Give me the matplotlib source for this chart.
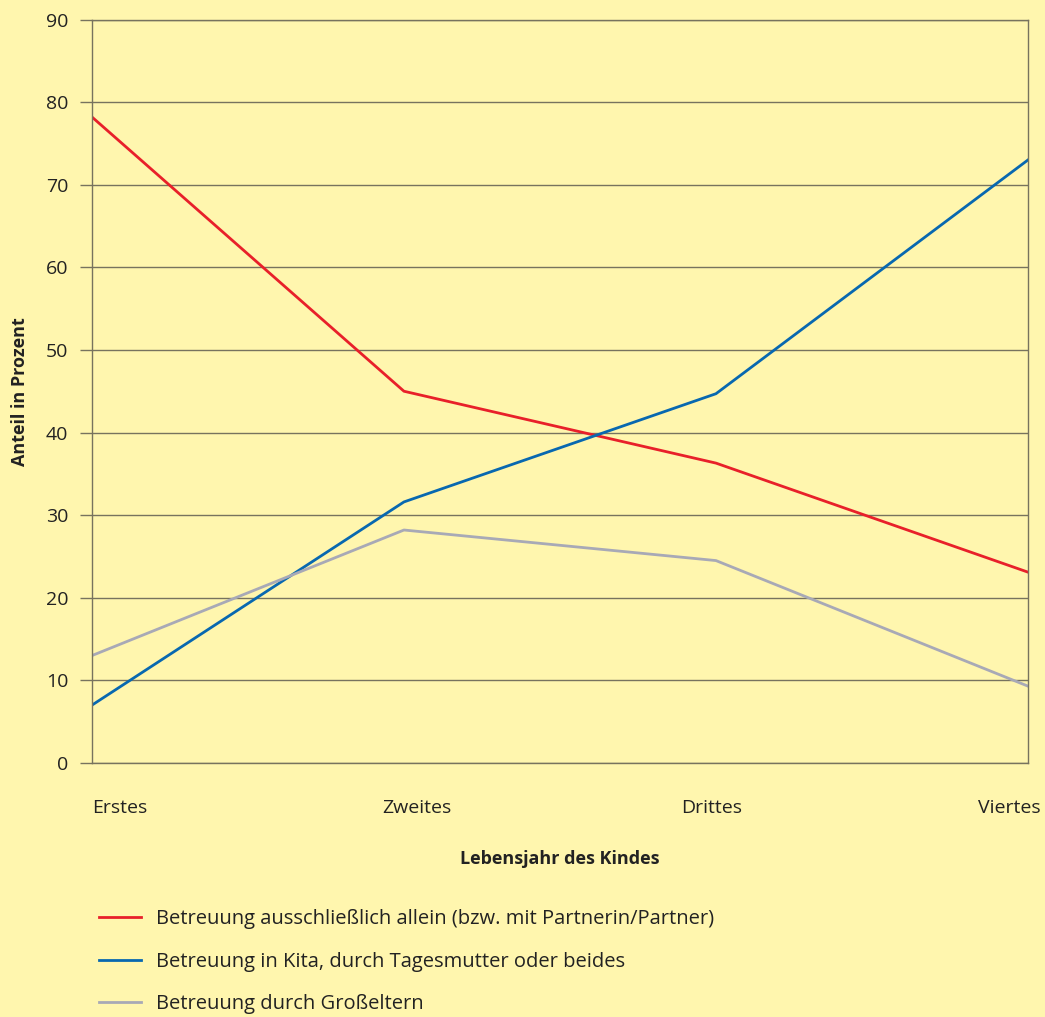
import matplotlib.pyplot as plt
import matplotlib.transforms as mt

plt.rcParams['font.family'] = ['Open Sans', 'DejaVu Sans']

jahre = ['Erstes', 'Zweites', 'Drittes', 'Viertes']
allein = [78.2, 45.0, 36.3, 23.1]
kita = [7.0, 31.6, 44.7, 73.0]
grosseltern = [13.0, 28.2, 24.5, 9.3]
serien_namen = ['Betreuung ausschließlich allein (bzw. mit Partnerin/Partner)',
                'Betreuung in Kita, durch Tagesmutter oder beides',
                'Betreuung durch Großeltern']

bg = '#FFF6AE'
grid_col = '#77735E'

fig = plt.figure(figsize=(10.45, 10.17), dpi=100, facecolor=bg)
ax = fig.add_axes([0.088, 0.2498, 0.8957, 0.7310], facecolor=bg)

x = range(len(jahre))
ax.plot(x, allein, color='#E8202A', lw=2.0, label=serien_namen[0])
ax.plot(x, kita, color='#0868B0', lw=2.0, label=serien_namen[1])
ax.plot(x, grosseltern, color='#A8A9B6', lw=2.0, label=serien_namen[2])

ax.set_xlim(0, 3)
ax.set_ylim(0, 90)
ax.set_yticks(range(0, 91, 10))
ax.grid(axis='y', color=grid_col, lw=1.0)
ax.set_axisbelow(True)
for s in ax.spines.values():
    s.set_color(grid_col)
    s.set_linewidth(1.0)
ax.tick_params(axis='y', length=9, width=1.0, color=grid_col, pad=8,
               labelsize=14, labelcolor='#222222')
ax.tick_params(axis='x', length=0, pad=26, labelsize=14, labelcolor='#222222')
ax.set_xticks(list(x))
ax.set_xticklabels(jahre)
tl = ax.get_xticklabels()
for t in tl:
    t.set_ha('left')
tl[-1].set_ha('right')

# labels sit a bit off the points, like in the original
shifts = [0, -22, -35, 13]
for t, s in zip(tl, shifts):
    t.set_transform(t.get_transform() + mt.ScaledTranslation(s / 100, 0, fig.dpi_scale_trans))

ax.set_xlabel('Lebensjahr des Kindes', fontsize=13, fontweight='bold',
              labelpad=24, color='#222222')
ax.set_ylabel('Anteil in Prozent', fontsize=13, fontweight='bold',
              labelpad=12, color='#222222')

fig.legend(loc='upper left', bbox_to_anchor=(0.077, 0.124), frameon=False,
           fontsize=14.5, handlelength=2.1, handletextpad=0.75, labelspacing=1.12,
           labelcolor='#222222')

fig.savefig('out.png', dpi=100, facecolor=bg)
